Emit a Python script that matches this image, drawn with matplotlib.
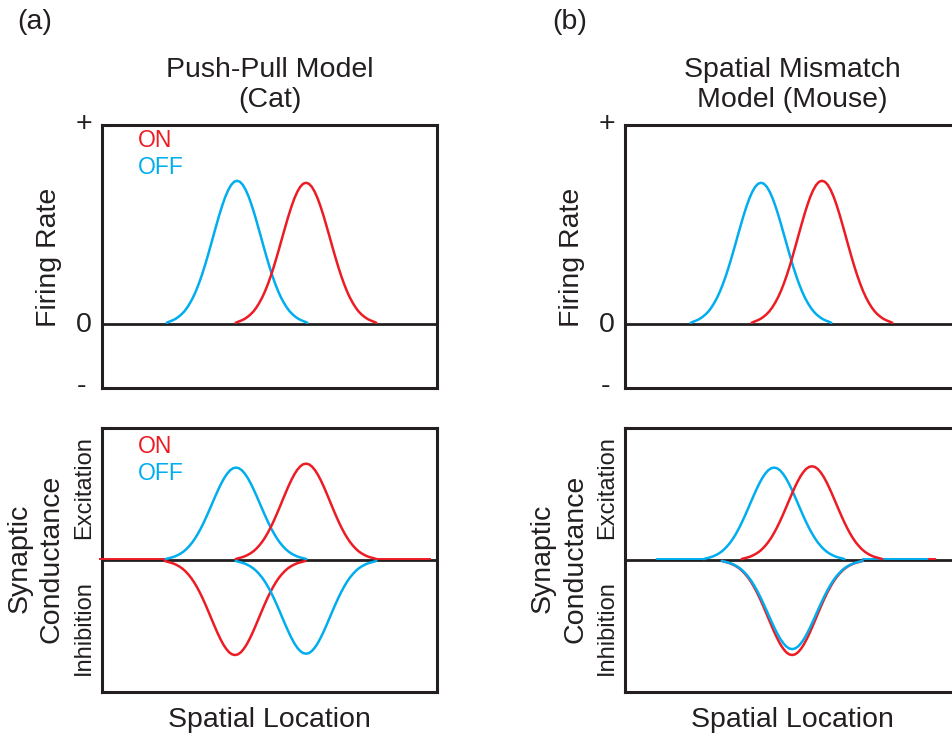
"""Push-pull vs spatial-mismatch schematic: firing rate and synaptic conductance."""

import matplotlib

matplotlib.use("Agg")
import matplotlib.pyplot as plt  # noqa: E402
import numpy as np  # noqa: E402

W, H = 952, 735
INK = "#231f20"
RED = "#ed1c24"
CYAN = "#00aeef"
FONT = "Liberation Sans"

PROFILE = [0.01, 0.019, 0.027, 0.037, 0.051, 0.068, 0.089, 0.116, 0.149, 0.187,
           0.232, 0.284, 0.342, 0.406, 0.475, 0.547, 0.621, 0.694, 0.765, 0.830,
           0.888, 0.935, 0.971, 0.993, 1.0, 0.993, 0.971, 0.935, 0.888, 0.830,
           0.765, 0.694, 0.621, 0.547, 0.475, 0.406, 0.342, 0.284, 0.232, 0.187,
           0.149, 0.116, 0.089, 0.068, 0.051, 0.037, 0.027, 0.019, 0.01]
HALF_WIDTH = 21.0  # spatial units (axis spans 0..100)

# firing rate: OFF, ON
CAT_FR_CENTERS = [40.3, 60.9]
CAT_FR_PEAKS = [0.72, 0.71]
MOUSE_FR_CENTERS = [40.6, 58.8]
MOUSE_FR_PEAKS = [0.71, 0.72]
FR_COLORS = [CYAN, RED]

# conductance: OFF excitation, ON excitation, ON inhibition, OFF inhibition
CAT_G_CENTERS = [40.0, 60.9, 39.7, 60.9]
CAT_G_PEAKS = [0.70, 0.73, -0.72, -0.71]
MOUSE_G_CENTERS = [44.5, 55.8, 49.9, 49.9]
MOUSE_G_PEAKS = [0.70, 0.71, -0.72, -0.675]
G_COLORS = [CYAN, RED, RED, CYAN]

# flat baseline stretches of the traces, (start, end) per colour
CAT_G_TAILS = {RED: [(-0.6, 18.7), (81.9, 97.9)], CYAN: []}
MOUSE_G_TAILS = {RED: [(76.8, 92.5)], CYAN: [(9.6, 23.5), (70.9, 90.1)]}

A_LEFT, B_LEFT, AX_W = 102, 625, 335
TOP_Y = (125, 388)
BOT_Y = (428, 692)


def make_axes(fig, left, ys, ylim):
    top, bottom = ys
    ax = fig.add_axes([left / W, 1 - bottom / H, AX_W / W, (bottom - top) / H])
    ax.set_xlim(0, 100)
    ax.set_ylim(*ylim)
    ax.set_xticks([])
    ax.set_yticks([])
    for sp in ax.spines.values():
        sp.set_linewidth(2.2)
        sp.set_color(INK)
    ax.axhline(0, color=INK, lw=2.0, zorder=2)
    return ax


def draw_curves(ax, centers, peaks, colors):
    offsets = np.linspace(-HALF_WIDTH, HALF_WIDTH, len(PROFILE))
    shape = np.array(PROFILE)
    for c, p, col in zip(centers, peaks, colors):
        ax.plot(c + offsets, p * shape, color=col, lw=1.8, zorder=3,
                solid_capstyle="round")


def draw_tails(ax, tails):
    for col, spans in tails.items():
        for x0, x1 in spans:
            ax.plot([x0, x1], [0.008, 0.008], color=col, lw=1.4, zorder=3,
                    clip_on=False)


def label(fig, x, y, s, size=20.5, color=INK, **kw):
    fig.text(x / W, 1 - y / H, s, fontsize=size, color=color, family=FONT, **kw)


def main() -> None:
    fig = plt.figure(figsize=(W / 100, H / 100), dpi=100)
    fig.patch.set_facecolor("white")

    panels = [
        (A_LEFT, CAT_FR_CENTERS, CAT_FR_PEAKS, CAT_G_CENTERS, CAT_G_PEAKS,
         CAT_G_TAILS, True),
        (B_LEFT, MOUSE_FR_CENTERS, MOUSE_FR_PEAKS, MOUSE_G_CENTERS,
         MOUSE_G_PEAKS, MOUSE_G_TAILS, False),
    ]
    for left, frc, frp, gc, gp, tails, legend in panels:
        ax1 = make_axes(fig, left, TOP_Y, (-0.32, 1.0))
        draw_curves(ax1, frc, frp, FR_COLORS)
        ax2 = make_axes(fig, left, BOT_Y, (-1.0, 1.0))
        draw_tails(ax2, tails)
        draw_curves(ax2, gc, gp, G_COLORS)

        cx = left + AX_W / 2
        # axis annotations
        label(fig, left - 18, 124, "+", ha="center", va="center")
        label(fig, left - 18, 325, "0", ha="center", va="center")
        label(fig, left - 20, 386, "-", ha="center", va="center")
        label(fig, left - 53, 257, "Firing Rate", rotation=90,
              ha="center", va="center")
        label(fig, left - 82, 558, "Synaptic", rotation=90,
              ha="center", va="center")
        label(fig, left - 50, 559, "Conductance", rotation=90,
              ha="center", va="center")
        label(fig, left - 18, 488, "Excitation", size=17, rotation=90,
              ha="center", va="center")
        label(fig, left - 18, 628, "Inhibition", size=17, rotation=90,
              ha="center", va="center")
        label(fig, cx, 727, "Spatial Location", ha="center", va="baseline")

        if legend:
            for y0 in (147, 453):
                label(fig, left + 36, y0, "ON", size=16.5, color=RED,
                      ha="left", va="baseline")
                label(fig, left + 36, y0 + 27, "OFF", size=16.5, color=CYAN,
                      ha="left", va="baseline")

    # panel letters and titles
    label(fig, 35, 22, "(a)", ha="center", va="center")
    label(fig, 570, 22, "(b)", ha="center", va="center")
    label(fig, A_LEFT + AX_W / 2, 77, "Push-Pull Model", ha="center", va="baseline")
    label(fig, A_LEFT + AX_W / 2, 107, "(Cat)", ha="center", va="baseline")
    label(fig, B_LEFT + AX_W / 2, 77, "Spatial Mismatch", ha="center", va="baseline")
    label(fig, B_LEFT + AX_W / 2, 107, "Model (Mouse)", ha="center", va="baseline")

    fig.savefig("out.png", dpi=100, facecolor="white")
    plt.close(fig)


if __name__ == "__main__":
    main()
